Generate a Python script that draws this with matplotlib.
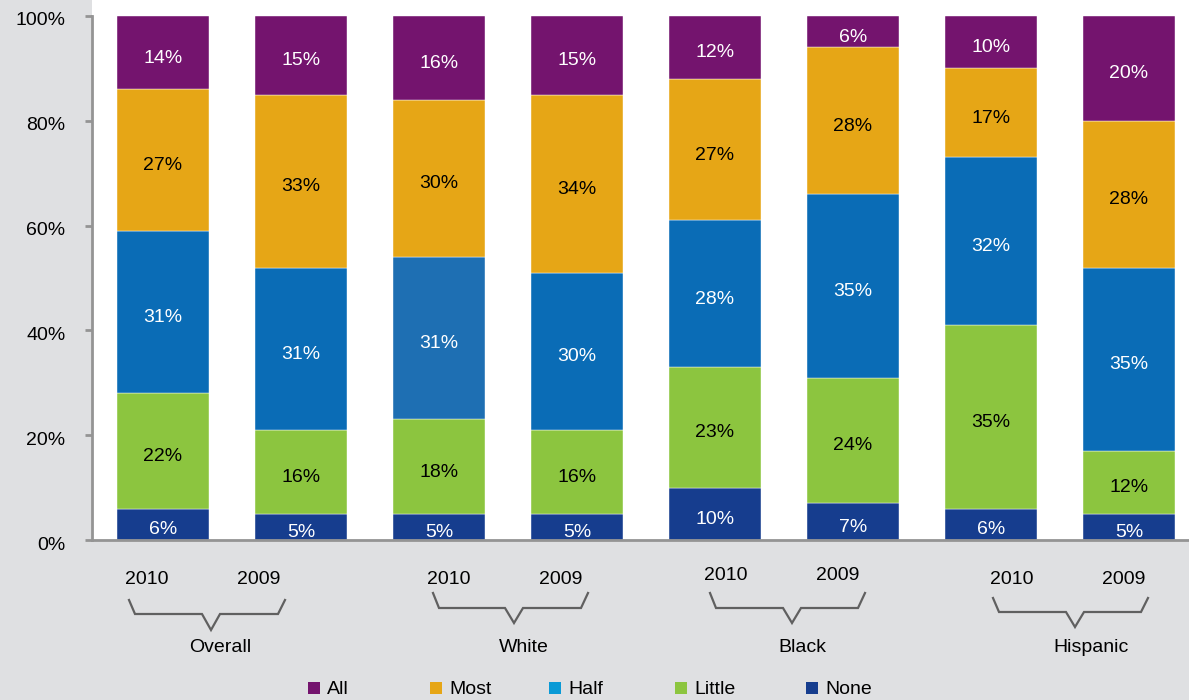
import matplotlib
matplotlib.use("Agg")
import matplotlib.pyplot as plt
import matplotlib.transforms as mtransforms
from matplotlib.patches import Rectangle
from matplotlib.lines import Line2D

plt.rcParams["font.family"] = ["Liberation Sans", "DejaVu Sans"]

# ---- data -------------------------------------------------------------
groups = ["Overall", "White", "Black", "Hispanic"]
years = ["2010", "2009"]
levels = ["None", "Little", "Half", "Most", "All"]

none_pct = [6, 5, 5, 5, 10, 7, 6, 5]
little_pct = [22, 16, 18, 16, 23, 24, 35, 12]
half_pct = [31, 31, 31, 30, 28, 35, 32, 35]
most_pct = [27, 33, 30, 34, 27, 28, 17, 28]
all_pct = [14, 15, 16, 15, 12, 6, 10, 20]

yticks = [0, 20, 40, 60, 80, 100]
ytick_labels = ["0%", "20%", "40%", "60%", "80%", "100%"]

# ---- style ------------------------------------------------------------
W, H = 1189, 700
BG = "#dfe0e2"
AXIS = "#949494"
colors = {
    "None": "#163d8e",
    "Little": "#8cc53f",
    "Half": "#0a6cb6",
    "Most": "#e6a616",
    "All": "#74146e",
}
legend_half = "#0a9ad6"
text_color = {"None": "white", "Little": "black", "Half": "white",
              "Most": "black", "All": "white"}
FS = 14

fig = plt.figure(figsize=(W / 100, H / 100), dpi=100, facecolor=BG)


def fx(px):
    return px / W


def fy(py):
    return 1 - py / H


ax = fig.add_axes([fx(92), fy(540), 1 - fx(92), 540 / H])
ax.set_facecolor("white")

series = {"None": none_pct, "Little": little_pct, "Half": half_pct,
          "Most": most_pct, "All": all_pct}
xs = list(range(len(none_pct)))
bottoms = [0] * len(xs)
for lev in levels:
    vals = series[lev]
    cols = [colors[lev]] * len(xs)
    if lev == "Half":
        cols[2] = "#1e6fb3"  # White 2010 segment is a slightly different blue
    ax.bar(xs, vals, width=0.667, bottom=bottoms, color=cols,
           edgecolor="white", linewidth=0.3, zorder=2)
    for x, v, b in zip(xs, vals, bottoms):
        ax.annotate(f"{v}%", (x, b + v / 2), xytext=(0, -7.2),
                    textcoords="offset points", ha="center", va="baseline",
                    fontsize=FS, color=text_color[lev], zorder=3)
    bottoms = [b + v for b, v in zip(bottoms, vals)]

ax.set_xlim(-0.514, 7.435)
ax.set_ylim(0, 103.05)
ax.set_xticks([])
ax.set_yticks(yticks)
ax.set_yticklabels(ytick_labels, fontsize=FS)
ax.tick_params(axis="y", length=5, width=2, color=AXIS, pad=14)
shift = mtransforms.ScaledTranslation(0, -3 / 100, fig.dpi_scale_trans)
for lbl in ax.get_yticklabels():
    lbl.set_transform(lbl.get_transform() + shift)

for s in ("top", "right"):
    ax.spines[s].set_visible(False)
for s in ("left", "bottom"):
    ax.spines[s].set_color(AXIS)
    ax.spines[s].set_linewidth(2)
ax.spines["left"].set_bounds(0, 100)

# ---- category labels with braces below the axis -----------------------
year_pos = [(147, 580), (259, 580), (449, 580), (561, 580),
            (726, 576), (838, 576), (1012, 580), (1124, 580)]
for i, (px, py) in enumerate(year_pos):
    fig.text(fx(px), fy(py), years[i % 2], ha="center", va="center",
             fontsize=FS)

group_pos = [(220, 648), (524, 648), (802, 648), (1091, 647)]
braces = [(129, 285, 211, 600, 614, 630),
          (433, 588, 514, 593, 608, 623),
          (710, 865, 792, 593, 608, 623),
          (993, 1148, 1075, 598, 612, 627)]
for name, (px, py), (x0, x1, xt, yt, yb, ytip) in zip(groups, group_pos, braces):
    fig.text(fx(px), fy(py), name, ha="center", va="center", fontsize=FS)
    bx = [x0, x0 + 6, xt - 9, xt, xt + 9, x1 - 7, x1]
    by = [yt, yb, yb, ytip, yb, yb, yt]
    fig.add_artist(Line2D([fx(v) for v in bx], [fy(v) for v in by],
                          color="#606060", linewidth=1.6,
                          solid_joinstyle="miter"))

# ---- legend -------------------------------------------------------------
legend_items = ["All", "Most", "Half", "Little", "None"]
legend_x = [308, 430, 549, 675, 806]
for lev, px in zip(legend_items, legend_x):
    c = legend_half if lev == "Half" else colors[lev]
    fig.add_artist(Rectangle((fx(px), fy(694)), fx(12), 12 / H,
                             facecolor=c, edgecolor="none",
                             transform=fig.transFigure))
    fig.text(fx(px + 19), fy(690), lev, ha="left", va="center", fontsize=FS)

fig.savefig("out.png", dpi=100, facecolor=BG)
